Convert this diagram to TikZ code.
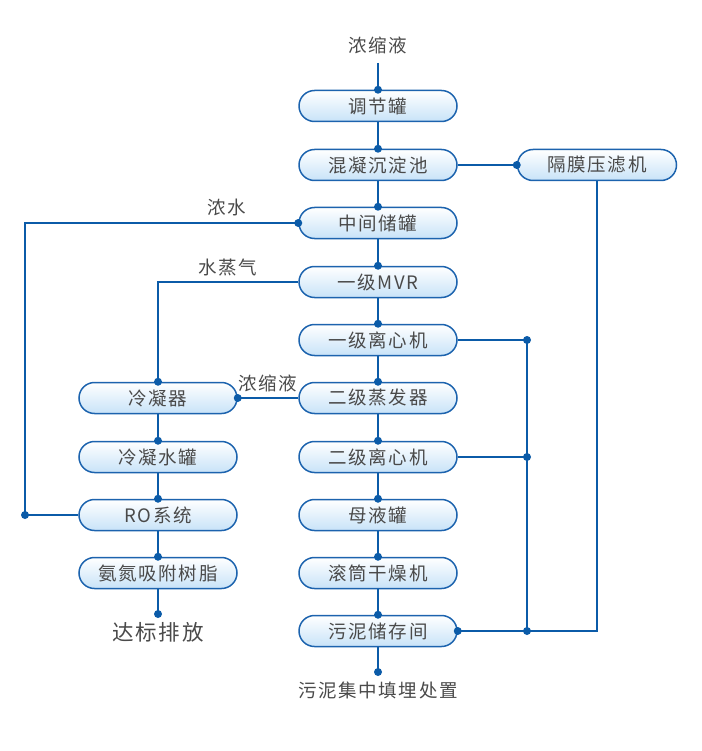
\documentclass[tikz,border=0pt]{standalone}
\usepackage{fontspec}
\setmainfont[LetterSpace=9]{Noto Sans CJK SC}
\definecolor{lineblue}{HTML}{0B5BA8}
\definecolor{boxblue}{HTML}{1C63AE}
\definecolor{fillblue}{HTML}{C8E3F8}
\definecolor{txt}{HTML}{4A4A4A}
\begin{document}
\begin{tikzpicture}[x=1pt,y=-1pt,
  box/.style={draw=boxblue, line width=1.5pt, rounded corners=15.5pt, minimum width=158pt, minimum height=31pt,
     top color=white, bottom color=fillblue, inner sep=0pt, text=txt, font=\fontsize{18.5}{18.5}\selectfont},
  lbl/.style={text=txt, font=\fontsize{18.5}{18.5}\selectfont, inner sep=0pt},
  conn/.style={draw=lineblue, line width=2.4pt},
  dot/.style={circle, fill=lineblue, inner sep=0pt, minimum size=8pt}]
\useasboundingbox (0,0) rectangle (701,751);
% main column
\node[lbl] (top) at (378,45) {浓缩液};
\node[box] (b1) at (378,106) {调节罐};
\node[box] (b2) at (378,165) {混凝沉淀池};
\node[box] (b3) at (378,223) {中间储罐};
\node[box] (b4) at (378,282) {一级MVR};
\node[box] (b5) at (378,340) {一级离心机};
\node[box] (b6) at (378,398) {二级蒸发器};
\node[box] (b7) at (378,457) {二级离心机};
\node[box] (b8) at (378,515) {母液罐};
\node[box] (b9) at (378,573) {滚筒干燥机};
\node[box] (b10) at (378,631) {污泥储存间};
\node[lbl] (bot) at (378,690) {污泥集中填埋处置};
% left column
\node[box] (l1) at (158,398) {冷凝器};
\node[box] (l2) at (158,457) {冷凝水罐};
\node[box] (l3) at (158,515) {RO系统};
\node[box] (l4) at (158,573) {氨氮吸附树脂};
\node[lbl, font=\fontsize{21.5}{21.5}\selectfont] (out) at (158,632) {达标排放};
% right
\node[box, minimum width=159pt] (r1) at (597,165) {隔膜压滤机};
% labels
\node[lbl] (t1) at (227,207) {浓水};
\node[lbl] (t2) at (228,268) {水蒸气};
\node[lbl] (t3) at (268,383) {浓缩液};
% coordinates
\coordinate (c0) at (378,63);
\coordinate (cb) at (378,672);
\coordinate (co) at (158,614);
\coordinate (k1) at (25,223);
\coordinate (k2) at (25,515);
\coordinate (k3) at (158,282);
\coordinate (j1) at (527,340);
\coordinate (j2) at (527,457);
\coordinate (j3) at (527,631);
\coordinate (j4) at (597,631);
% main vertical connectors
\draw[conn] (c0) -- (b1.north);
\foreach \a/\b in {b1/b2,b2/b3,b3/b4,b4/b5,b5/b6,b6/b7,b7/b8,b8/b9,b9/b10,l1/l2,l2/l3,l3/l4}
  {\draw[conn] (\a.south) -- (\b.north); \node[dot] at (\b.north) {};}
\node[dot] at (b1.north) {};
\draw[conn] (b10.south) -- (cb); \node[dot] at (cb) {};
\draw[conn] (l4.south) -- (co); \node[dot] at (co) {};
% side connectors
\draw[conn] (b2.east) -- (r1.west); \node[dot] at (r1.west) {};
\draw[conn] (b3.west) -- (k1) -- (k2) -- (l3.west); \node[dot] at (b3.west) {}; \node[dot] at (k2) {};
\draw[conn] (b4.west) -- (k3) -- (l1.north); \node[dot] at (l1.north) {};
\draw[conn] (b6.west) -- (l1.east); \node[dot] at (l1.east) {};
\draw[conn] (b5.east) -- (j1) -- (j3);
\draw[conn] (b7.east) -- (j2);
\draw[conn] (r1.south) -- (j4) -- (b10.east);
\node[dot] at (j1) {}; \node[dot] at (j2) {}; \node[dot] at (j3) {}; \node[dot] at (b10.east) {};
\end{tikzpicture}
\end{document}
